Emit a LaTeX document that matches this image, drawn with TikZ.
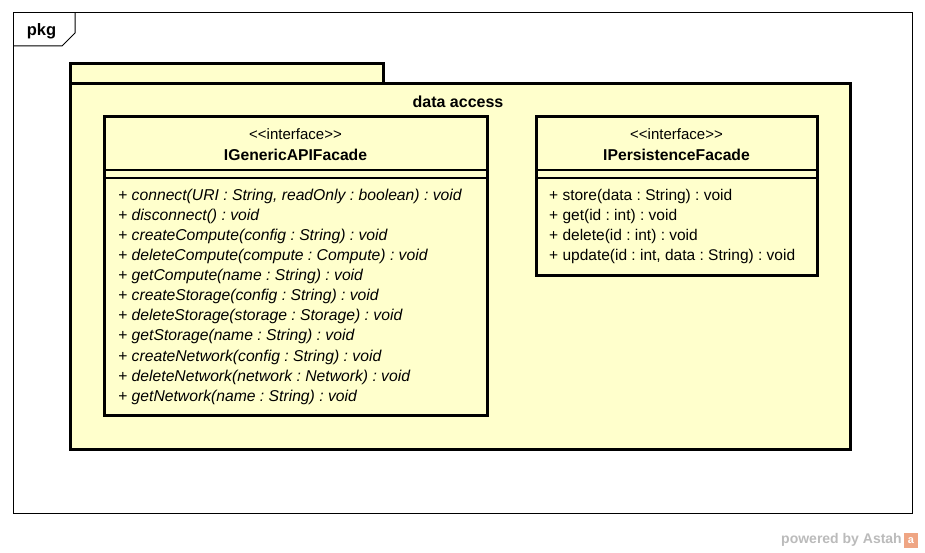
\documentclass[tikz,border=0pt]{standalone}
\usepackage{fontspec}
\setmainfont{Liberation Sans}[Ligatures=NoCommon]
\definecolor{pkgfill}{HTML}{FFFFCC}
\definecolor{wm}{HTML}{BBBBBB}
\definecolor{astah}{HTML}{EFA583}
\frenchspacing
\tikzset{
  thick box/.style={draw=black, line width=3pt, fill=pkgfill},
  thin line/.style={draw=black, line width=1pt},
  op/.style={anchor=west, inner sep=0pt, font=\fontsize{15.5}{17}\selectfont},
  opi/.style={op, font=\fontsize{15.7}{17}\selectfont\itshape},
  stereo/.style={inner sep=0pt, font=\fontsize{15}{16}\selectfont},
  cname/.style={inner sep=0pt, font=\fontsize{15.7}{17}\selectfont\bfseries},
}
\begin{document}
\begin{tikzpicture}[x=1pt,y=-1pt]
\useasboundingbox[fill=white] (0,0) rectangle (925,553);
% outer frame
\draw[thin line] (13,13) rectangle (912,513);
\draw[thin line] (13,46) -- (62,46) -- (75,33) -- (75,13);
\node[font=\fontsize{16.5}{17}\selectfont\bfseries, inner sep=0pt] (pkg) at (41.5,31) {pkg};
% package
\draw[thick box] (70,64) rectangle (383,84);
\draw[thick box] (70,84) rectangle (850,449);
\node[font=\fontsize{16}{17}\selectfont\bfseries, inner sep=0pt] (pkgname) at (458,102) {data access};
% class 1
\draw[thick box] (104,117) rectangle (487,415);
\node[stereo] (c1st) at (295.5,134) {{<}{<}interface{>}{>}};
\node[cname] (c1name) at (295.5,155) {IGenericAPIFacade};
\draw[line width=1.5pt] (104,170) -- (487,170);
\draw[line width=1.5pt] (104,178) -- (487,178);
\node[opi] (o1) at (118,196.5) {+ connect(URI : String, readOnly : boolean) : void};
\node[opi] (o2) at (118,216.5) {+ disconnect() : void};
\node[opi] (o3) at (118,236.5) {+ createCompute(config : String) : void};
\node[opi] (o4) at (118,256.5) {+ deleteCompute(compute : Compute) : void};
\node[opi] (o5) at (118,276.5) {+ getCompute(name : String) : void};
\node[opi] (o6) at (118,296.5) {+ createStorage(config : String) : void};
\node[opi] (o7) at (118,316.5) {+ deleteStorage(storage : Storage) : void};
\node[opi] (o8) at (118,336.5) {+ getStorage(name : String) : void};
\node[opi] (o9) at (118,357) {+ createNetwork(config : String) : void};
\node[opi] (o10) at (118,377) {+ deleteNetwork(network : Network) : void};
\node[opi] (o11) at (118,397) {+ getNetwork(name : String) : void};
% class 2
\draw[thick box] (536,117) rectangle (817,275);
\node[stereo] (c2st) at (676.5,134) {{<}{<}interface{>}{>}};
\node[cname] (c2name) at (676.5,155) {IPersistenceFacade};
\draw[line width=1.5pt] (536,170) -- (817,170);
\draw[line width=1.5pt] (536,178) -- (817,178);
\node[op] (p1) at (549,196.5) {+ store(data : String) : void};
\node[op] (p2) at (549,216.5) {+ get(id : int) : void};
\node[op] (p3) at (549,236.5) {+ delete(id : int) : void};
\node[op] (p4) at (549,256.5) {+ update(id : int, data : String) : void};
% watermark
\node[text=wm, font=\fontsize{14}{16}\selectfont\bfseries, anchor=east, inner sep=0pt] (wmk) at (902,540) {powered by Astah};
\fill[astah] (904,533) rectangle (918,548);
\node[text=white, font=\fontsize{11}{12}\selectfont\bfseries, inner sep=0pt] (icon) at (911,541) {a};
\end{tikzpicture}
\end{document}
